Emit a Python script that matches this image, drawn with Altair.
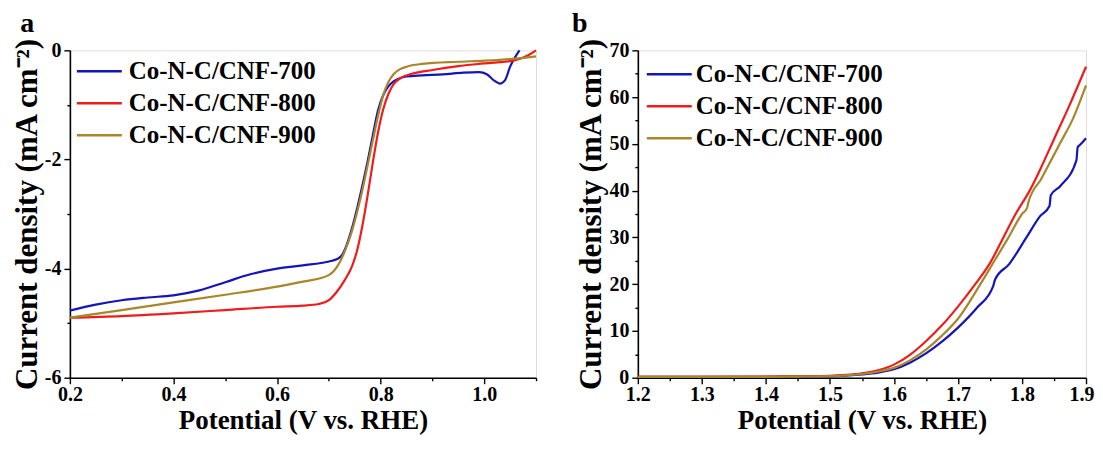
import altair as alt
import pandas as pd

FONT = "Liberation Serif"
series = ["Co-N-C/CNF-700", "Co-N-C/CNF-800", "Co-N-C/CNF-900"]
colors = ["#1414b8", "#ee1c1c", "#a8862a"]

# ---- panel a (ORR LSV) ----
a700_v = [0.20, 0.25, 0.30, 0.35, 0.40, 0.45, 0.50, 0.55, 0.60, 0.65, 0.70, 0.715, 0.725, 0.735,
          0.745, 0.755, 0.765, 0.775, 0.785, 0.795, 0.805, 0.815, 0.825, 0.835, 0.85, 0.88, 0.92,
          0.96, 0.99, 1.005, 1.02, 1.03, 1.04, 1.05, 1.068]
a700_j = [-4.77, -4.66, -4.58, -4.53, -4.49, -4.40, -4.25, -4.10, -4.00, -3.94, -3.87, -3.83, -3.76,
          -3.55, -3.25, -2.88, -2.47, -2.03, -1.55, -1.10, -0.82, -0.66, -0.57, -0.52, -0.48, -0.46,
          -0.44, -0.41, -0.40, -0.44, -0.56, -0.61, -0.55, -0.30, 0.0]
a800_v = [0.20, 0.30, 0.40, 0.50, 0.60, 0.65, 0.68, 0.70, 0.715, 0.73, 0.745, 0.755, 0.765, 0.775,
          0.785, 0.795, 0.805, 0.815, 0.825, 0.84, 0.86, 0.90, 0.95, 1.00, 1.06, 1.085, 1.10]
a800_j = [-4.90, -4.87, -4.82, -4.76, -4.70, -4.68, -4.65, -4.58, -4.43, -4.22, -3.95, -3.65, -3.20,
          -2.65, -2.05, -1.50, -1.08, -0.80, -0.62, -0.50, -0.43, -0.36, -0.29, -0.24, -0.18, -0.09, 0.0]
a900_v = [0.20, 0.30, 0.40, 0.50, 0.60, 0.65, 0.70, 0.715, 0.73, 0.745, 0.755, 0.765, 0.775, 0.785,
          0.795, 0.805, 0.815, 0.825, 0.835, 0.85, 0.88, 0.95, 1.00, 1.05, 1.10]
a900_j = [-4.90, -4.76, -4.62, -4.48, -4.33, -4.24, -4.12, -3.98, -3.70, -3.30, -2.95, -2.55, -2.10,
          -1.65, -1.20, -0.82, -0.58, -0.44, -0.36, -0.30, -0.25, -0.21, -0.19, -0.16, -0.11]

# ---- panel b (OER LSV) ----
b700_v = [1.20, 1.30, 1.40, 1.45, 1.50, 1.55, 1.575, 1.60, 1.625, 1.65, 1.675, 1.70, 1.73, 1.755,
          1.758, 1.78, 1.807, 1.828, 1.843, 1.845, 1.86, 1.885, 1.887, 1.89, 1.90]
b700_j = [0.2, 0.2, 0.2, 0.25, 0.3, 0.7, 1.1, 1.8, 3.2, 5.2, 7.7, 10.7, 15.0, 19.6,
          21.0, 24.3, 30.0, 34.5, 36.7, 39.0, 41.0, 46.5, 49.3, 49.7, 51.2]
b800_v = [1.20, 1.30, 1.40, 1.45, 1.50, 1.525, 1.55, 1.575, 1.60, 1.625, 1.65, 1.675, 1.70, 1.727,
          1.75, 1.771, 1.79, 1.812, 1.83, 1.85, 1.875, 1.90]
b800_j = [0.2, 0.2, 0.25, 0.3, 0.4, 0.6, 0.95, 1.6, 2.8, 4.9, 7.8, 11.2, 15.2, 20.0,
          24.5, 30.0, 35.0, 40.0, 45.0, 51.0, 58.5, 66.5]
b900_v = [1.20, 1.30, 1.40, 1.45, 1.50, 1.525, 1.55, 1.575, 1.60, 1.625, 1.65, 1.675, 1.70, 1.735,
          1.757, 1.779, 1.80, 1.808, 1.81, 1.83, 1.859, 1.88, 1.90]
b900_j = [0.2, 0.2, 0.2, 0.25, 0.35, 0.5, 0.8, 1.3, 2.1, 3.7, 6.0, 9.0, 12.6, 20.0,
          25.0, 30.0, 35.0, 36.3, 37.5, 42.5, 50.0, 55.5, 62.5]

a_x_ticks = [0.2, 0.3, 0.4, 0.5, 0.6, 0.7, 0.8, 0.9, 1.0, 1.1]
a_y_ticks = [0, -1, -2, -3, -4, -5, -6]
b_x_ticks = [1.2, 1.25, 1.3, 1.35, 1.4, 1.45, 1.5, 1.55, 1.6, 1.65, 1.7, 1.75, 1.8, 1.85, 1.9]
b_y_ticks = [0, 5, 10, 15, 20, 25, 30, 35, 40, 45, 50, 55, 60, 65, 70]


def make_df(pairs):
    rows = []
    for name, vs, js in pairs:
        for i, (v, j) in enumerate(zip(vs, js)):
            rows.append({"Potential": v, "J": j, "Sample": name, "order": i})
    return pd.DataFrame(rows)


df_a = make_df([(series[0], a700_v, a700_j), (series[1], a800_v, a800_j), (series[2], a900_v, a900_j)])
df_b = make_df([(series[0], b700_v, b700_j), (series[1], b800_v, b800_j), (series[2], b900_v, b900_j)])


def axis(title, values, major_test, label_expr, title_pad, label_pad, title_size, end_test=None):
    extra = {}
    if end_test:
        extra = dict(labelAlign={"condition": {"test": end_test, "value": "right"}, "value": "center"},
                     labelOffset={"condition": {"test": end_test, "value": 8}, "value": 0})
    return alt.Axis(
        title=title, values=values, labelExpr=label_expr,
        tickSize={"condition": {"test": major_test, "value": 6}, "value": 3},
        grid=False, domainColor="black", domainWidth=1.6, tickColor="black", tickWidth=1.4,
        labelFont=FONT, labelFontSize=20, labelFontWeight="bold", labelColor="black",
        titleFont=FONT, titleFontSize=title_size, titleFontWeight="bold", titleColor="black",
        labelOverlap=False, labelPadding=label_pad, titlePadding=title_pad, labelFlush=False,
        **extra,
    )


def panel(df, letter, dx, xdom, xvals, xtest, xlab, xend, ydom, yvals, ytest, ylab, width, lx, ly, loff):
    return alt.Chart(
        df,
        title=alt.TitleParams(letter, anchor="start", frame="bounds", font=FONT, fontSize=28,
                              fontWeight="bold", color="black", offset=0, dx=dx),
    ).mark_line(strokeWidth=2.2, interpolate="monotone").encode(
        x=alt.X("Potential:Q", scale=alt.Scale(domain=xdom, nice=False, zero=False),
                axis=axis("Potential (V vs. RHE)", xvals, xtest, xlab, 3, 1, 27, xend)),
        y=alt.Y("J:Q", scale=alt.Scale(domain=ydom, nice=False, zero=False),
                axis=axis("Current density (mA cm⁻²)", yvals, ytest, ylab, 1, 3, 31)),
        color=alt.Color("Sample:N", scale=alt.Scale(domain=series, range=colors),
                        legend=alt.Legend(orient="none", legendX=lx, legendY=ly, title=None,
                                          symbolType="M-3,0H3", symbolSize=225, symbolStrokeWidth=2.5,
                                          labelFont=FONT, labelFontSize=25, labelFontWeight="bold",
                                          labelColor="black", labelLimit=0, labelOffset=loff,
                                          rowPadding=6)),
        order="order:Q",
    ).properties(width=width, height=328)


pa = panel(df_a, "a", 9, [0.2, 1.1], a_x_ticks, "round(datum.value*10)%2==0",
           "round(datum.value*10)%2==0 ? format(datum.value,'.1f') : ''", None,
           [-6, 0], a_y_ticks, "datum.value%2==0",
           "datum.value%2==0 ? '' + datum.value : ''", 467, 17, 8.5, 17)
pb = panel(df_b, "b", -4, [1.2, 1.9], b_x_ticks, "round(datum.value*100)%10==0",
           "round(datum.value*100)%10==0 ? format(datum.value,'.1f') : ''", "datum.value>1.89",
           [0, 70], b_y_ticks, "datum.value%10==0",
           "datum.value%10==0 ? '' + datum.value : ''", 449, 19, 11.5, 14)

chart = alt.hconcat(pa, pb, spacing=30).resolve_legend(color="independent").resolve_scale(
    color="independent"
).configure_view(
    stroke="black", strokeWidth=1.6
).configure(background="white", padding={"left": 2, "top": 0, "right": 0, "bottom": 0})

chart.save("out.html", embed_options={"renderer": "svg", "actions": False})
